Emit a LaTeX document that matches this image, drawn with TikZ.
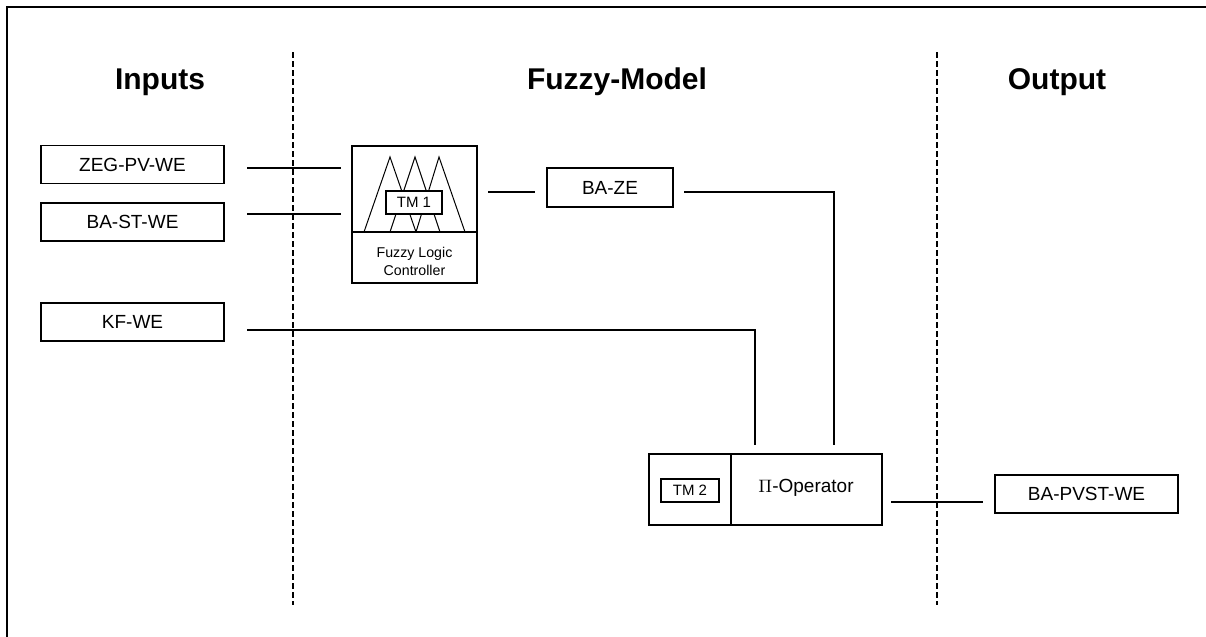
\documentclass[tikz,border=0pt]{standalone}
\usepackage{fontspec}
\setmainfont{Liberation Sans}
\begin{document}
\begin{tikzpicture}[x=0.5pt,y=-0.5pt,
  box/.style={draw, line width=0.9pt, inner sep=0pt, font=\fontsize{9.5}{11}\selectfont},
  smallbox/.style={draw, line width=0.7pt, fill=white, inner sep=0pt, font=\fontsize{7.5}{9}\selectfont},
  title/.style={font=\fontsize{15}{18}\selectfont\bfseries, anchor=base},
  conn/.style={line width=0.7pt},
  sep/.style={line width=0.6pt, dash pattern=on 3pt off 1.5pt},
  tri/.style={line width=0.5pt}]
\useasboundingbox (0,0) rectangle (1206,637);
% frame
\draw[line width=1pt] (7,637) -- (7,7) -- (1206,7);
% titles
\node[title] (tin) at (160,90) {Inputs};
\node[title] (tfm) at (617,90) {Fuzzy-Model};
\node[title] (tout) at (1057,90) {Output};
% separators
\coordinate (s1a) at (293,52); \coordinate (s1b) at (293,605);
\coordinate (s2a) at (937,52); \coordinate (s2b) at (937,605);
\draw[sep] (s1a) -- (s1b);
\draw[sep] (s2a) -- (s2b);
% input boxes
\node[box, minimum width=91.5pt, minimum height=19pt] (zeg) at (132.5,164.5) {ZEG-PV-WE};
\node[box, minimum width=91.5pt, minimum height=19pt] (bast) at (132.5,222) {BA-ST-WE};
\node[box, minimum width=91.5pt, minimum height=19pt] (kf) at (132.5,322) {KF-WE};
% FLC
\node[box, minimum width=62.5pt, minimum height=68.5pt] (flc) at (414.5,214.5) {};
\coordinate (flcdl) at (352,232); \coordinate (flcdr) at (477,232);
\draw[line width=0.9pt] (flcdl) -- (flcdr);
\draw[tri] (364,232) -- (390,157) -- (416,232);
\draw[tri] (390,232) -- (415,157) -- (440,232);
\draw[tri] (416,232) -- (439,157) -- (465,232);
\node[smallbox, minimum width=28pt, minimum height=11.5pt] (tm1) at (414,202.5) {TM 1};
\node[font=\fontsize{7.1}{9}\selectfont, align=center, inner sep=0pt] (flct) at (414.5,261) {Fuzzy Logic\\Controller};
% BA-ZE
\node[box, minimum width=63pt, minimum height=19.5pt] (baze) at (610,187.5) {BA-ZE};
% Pi operator
\node[box, minimum width=116.5pt, minimum height=35.5pt] (pi) at (765.5,489.5) {};
\coordinate (pidt) at (731,454); \coordinate (pidb) at (731,525);
\draw[line width=0.9pt] (pidt) -- (pidb);
\node[smallbox, minimum width=29pt, minimum height=11.5pt] (tm2) at (690,490.5) {TM 2};
\node[font=\fontsize{9.5}{11}\selectfont, inner sep=0pt] (pit) at (806,488) {$\Pi$-Operator};
% output
\node[box, minimum width=91.5pt, minimum height=19pt] (bapvst) at (1086.5,494) {BA-PVST-WE};
% connectors
\coordinate (c1a) at (247,168); \coordinate (c1b) at (341,168);
\coordinate (c2a) at (247,214); \coordinate (c2b) at (341,214);
\coordinate (c3a) at (247,330); \coordinate (c3b) at (755,330); \coordinate (c3c) at (755,445);
\coordinate (c4a) at (488,192); \coordinate (c4b) at (535,192);
\coordinate (c5a) at (684,192); \coordinate (c5b) at (834,192); \coordinate (c5c) at (834,445);
\coordinate (c6a) at (891,502); \coordinate (c6b) at (983,502);
\draw[conn] (c1a) -- (c1b);
\draw[conn] (c2a) -- (c2b);
\draw[conn] (c3a) -- (c3b) -- (c3c);
\draw[conn] (c4a) -- (c4b);
\draw[conn] (c5a) -- (c5b) -- (c5c);
\draw[conn] (c6a) -- (c6b);
\end{tikzpicture}
\end{document}
